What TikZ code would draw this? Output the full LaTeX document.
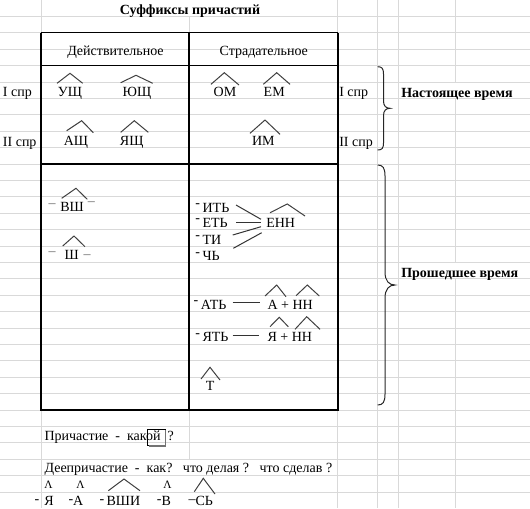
\documentclass[tikz,border=0pt]{standalone}
\usepackage{fontspec}
\setmainfont{Liberation Serif}
\usepackage{tikz}
\usetikzlibrary{calc}
\definecolor{sheetgrid}{HTML}{D9D9D9}
\definecolor{roofgray}{HTML}{404040}
\newcommand\xlfont{\fontsize{10.5}{12}\selectfont}
\newcommand\sdash{\raisebox{3.3pt}{-}\hspace{2pt}}
\newcommand\bdash{\raisebox{1.5pt}{-}}
\tikzset{
  cell/.style={inner sep=0pt, font=\xlfont, anchor=base},
  cellw/.style={cell, anchor=base west},
  head/.style={cellw, font=\xlfont\bfseries},
  lam/.style={cell, font=\fontsize{8.5}{10}\selectfont},
  gdash/.style={cellw, text=black!60},
  roof/.style={draw=roofgray, line width=0.75pt},
  link/.style={draw=black!80, line width=0.75pt},
  gridln/.style={draw=sheetgrid, line width=0.75pt},
  tabline/.style={line width=0.75pt},
  tabthick/.style={line width=1.5pt},
  brc/.style={draw=black!85, line width=0.75pt},
}

\begin{document}
\begin{tikzpicture}[x=0.75pt,y=0.75pt]
  \useasboundingbox (0,0) rectangle (530,-508);
  % sheet grid (rows 16.4 px)
  \foreach \k in {1,...,30}
    \draw[gridln] (0,-16.4*\k) -- (530,-16.4*\k);
  \foreach \x/\ya/\yb in {41/0/508, 189/16.4/459.2, 337.7/0/508, 377.7/0/508,
                          398/0/508, 455.7/0/82, 455.7/98.4/262.4, 455.7/278.8/508}
    \draw[gridln] (\x,-\ya) -- (\x,-\yb);
  % table frame
  \draw[tabline] (41,-32.8) -- (337.7,-32.8);
  \draw[tabline] (41,-65.6) -- (337.7,-65.6);
  \draw[tabthick] (41,-164) -- (337.7,-164);
  \draw[tabthick] (41,-32.8) -- (41,-410) -- (337.7,-410) -- (337.7,-32.8);
  \draw[tabthick] (189,-32.8) -- (189,-410);
  % title and column heads
  \node[cell, font=\xlfont\bfseries] (title) at (190,-14) {Суффиксы причастий};
  \node[cell] (hdact) at (115.5,-55) {Действительное};
  \node[cell] (hdpas) at (263.8,-55) {Страдательное};
  % conjugation labels
  \node[cellw] (spr1l) at (2.7,-96.7) {I спр};
  \node[cellw] (spr2l) at (2.7,-146) {II спр};
  \node[cellw] (spr1r) at (339,-96.7) {I спр};
  \node[cellw] (spr2r) at (339,-146) {II спр};
  % present tense suffixes
  \node[cell] (ush) at (70,-96.7) {УЩ};
  \node[cell] (yush) at (137,-96.7) {ЮЩ};
  \node[cell] (ash) at (76,-145.7) {АЩ};
  \node[cell] (yash) at (131.7,-145.7) {ЯЩ};
  \node[cell] (om) at (225,-96) {ОМ};
  \node[cell] (em) at (274.2,-96) {ЕМ};
  \node[cell] (im) at (263.3,-145.3) {ИМ};
  % past tense, active
  \node[cell] (vsh) at (72,-211) {ВШ};
  \node[gdash] (vshl) at (48.3,-207.3) {–};
  \node[gdash] (vshr) at (87.7,-205.7) {–};
  \node[cell] (sh) at (71.7,-259.3) {Ш};
  \node[gdash] (shl) at (48.3,-255.7) {–};
  \node[gdash] (shr) at (83.3,-258) {–};
  % past tense, passive
  \node[cellw] (itj) at (195,-212.3) {\sdash ИТЬ};
  \node[cellw] (etj) at (195,-227.3) {\sdash ЕТЬ};
  \node[cellw] (ti) at (195,-244) {\sdash ТИ};
  \node[cellw] (chj) at (195,-260.7) {\sdash ЧЬ};
  \node[cellw] (enn) at (266,-227.3) {ЕНН};
  \node[cellw] (atj) at (193.3,-309.3) {\sdash АТЬ};
  \node[cellw] (ann) at (267.3,-309.3) {А + НН};
  \node[cellw] (ytj) at (195,-341.7) {\sdash ЯТЬ};
  \node[cellw] (ynn) at (267.3,-341.7) {Я + НН};
  \node[cell] (tt) at (210.2,-390) {Т};
  \draw[link] ($(itj.base west)+(41,7.3)$) -- ($(enn.base west)+(-5,8)$);
  \draw[link] ($(etj.base west)+(41,5.3)$) -- ($(enn.base west)+(-5,5.3)$);
  \draw[link] ($(ti.base west)+(37.7,9)$) -- ($(enn.base west)+(-5,0.6)$);
  \draw[link] ($(chj.base west)+(38.3,12.4)$) -- ($(enn.base west)+(-4.3,-5.4)$);
  \draw[link] ($(atj.base west)+(39.4,7)$) -- ($(ann.base west)+(-7.3,7)$);
  \draw[link] ($(ytj.base west)+(37.7,6.7)$) -- ($(ynn.base west)+(-8,6.7)$);
  % tense labels and braces
  \node[head] (nast) at (401,-97.3) {Настоящее время};
  \node[head] (prosh) at (401,-277.3) {Прошедшее время};
  \draw[brc] (377.7,-66.7) .. controls (382,-66.7) and (383.5,-68.5) .. (383.5,-74)
    -- (383.5,-101) .. controls (383.5,-106) and (386,-108.3) .. (390,-108.3)
    .. controls (386,-108.3) and (383.5,-110.6) .. (383.5,-115.6)
    -- (383.5,-143) .. controls (383.5,-148.2) and (382,-150) .. (377.7,-150);
  \draw[brc] (377.7,-165) .. controls (383,-165) and (385,-168) .. (385,-176)
    -- (385,-272) .. controls (385,-281) and (389,-285) .. (395,-285)
    .. controls (389,-285) and (385,-289) .. (385,-298)
    -- (385,-394) .. controls (385,-402) and (383,-405) .. (377.7,-405);
  % questions below the table
  \node[cellw] (prich) at (44.3,-440) {Причастие\ \ -\ \ какой\ \ ?};
  \draw[line width=0.5pt] (147.3,-429.3) rectangle (165,-445.7);
  \draw[black!55, line width=1.2pt] (148.5,-446.2) -- (165.5,-446.2) -- (165.5,-430);
  \node[cellw] (deepr) at (44.3,-472.5)
       {Деепричастие\ \ -\ \ как?\ \ \ что делая ?\ \ \ что сделав ?};
  \node[lam] (lam1) at (48.5,-488.3) {Λ};
  \node[lam] (lam2) at (80.5,-488.3) {Λ};
  \node[lam] (lam3) at (167.5,-488.3) {Λ};
  \node[cell] (bdsh) at (37,-505.3) {\bdash};
  \node[cell] (bya) at (49,-505.3) {Я};
  \node[cellw] (ba) at (68.3,-505.3) {\bdash А};
  \node[cellw] (bvshi) at (99.3,-505.3) {\bdash\,ВШИ};
  \node[cellw] (bv) at (156.7,-505.3) {\bdash В};
  \node[cellw] (bsj) at (188.3,-505.3) {\raisebox{1pt}{–}СЬ};
  % suffix roofs
  \foreach \ax/\ay/\bx/\by/\cx/\cy in {
      57/83.3/70/73.3/82.7/83.3, 120.7/82.7/136/75.3/152.7/83.3,
      66.7/130.7/81.7/120.7/93.3/132.7, 120.7/132.3/134.3/120.7/148.3/132.3,
      211/84.3/224.3/72.7/239/85, 263.3/84.3/276.7/72.7/290/84.3,
      250/133.3/265/120/280/134.3, 61.7/198.3/76/188.3/87.3/199.3,
      62.7/246/74/236/85/246.7, 270/212.7/287.3/204/305/216,
      265/296/276.7/285/286/296.7, 296/295.7/307.3/285/319.3/296,
      270/326.7/279.3/317.3/288.3/326.7, 295/329.3/306.7/316.7/320/329.3,
      201/379/210/367.3/220/380, 108.3/490.7/124/479/140/490.7,
      194.3/491.7/203.3/478.3/215/494}
    \draw[roof] (\ax,-\ay) -- (\bx,-\by) -- (\cx,-\cy);
\end{tikzpicture}
\end{document}
